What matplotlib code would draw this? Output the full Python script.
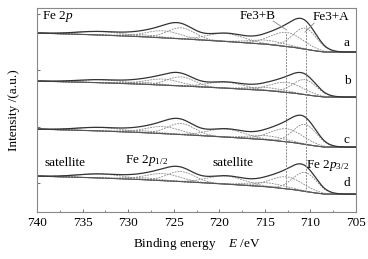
import numpy as np
import matplotlib
matplotlib.use('Agg')
import matplotlib.pyplot as plt

plt.rcParams['font.family'] = ['Liberation Serif', 'DejaVu Serif']
plt.rcParams['mathtext.fontset'] = 'custom'
plt.rcParams['mathtext.rm'] = 'Liberation Serif'
plt.rcParams['mathtext.it'] = 'Liberation Serif:italic'

# --- datos ---
muestras = ['a', 'b', 'c', 'd']
nivel_izq = [179, 131, 83, 36]      # fondo a 740 eV
nivel_der = [160, 115, 65, 18]      # fondo a 705 eV

# fondo tipo Shirley (fraccion del salto)
e_fondo = [740, 735, 730, 725, 720, 715, 712, 710, 708.5, 705]
f_fondo = [1.0, 0.93, 0.84, 0.72, 0.58, 0.42, 0.26, 0.1, 0.0, 0.0]

# componentes del ajuste: centro (eV), sigma (eV)
centros = [710.6, 712.6, 714.8, 719.3, 724.2, 726.2, 728.6, 733.0]
sigmas = [1.3, 1.8, 2.0, 2.0, 1.5, 1.9, 1.8, 2.5]
alturas = {
    'a': [21, 14, 4, 8, 11, 7, 2, 3.5],
    'b': [15, 10, 3, 6, 9, 6, 2, 3.0],
    'c': [20, 13, 4, 8, 11, 7, 2, 3.5],
    'd': [19, 12, 4, 8, 10, 7, 2, 4.0],
}

lineas_v = [712.7, 710.5]
lineas_v_y = [(24, 179), (20, 187)]

E = np.linspace(740, 705, 700)

fig = plt.figure(figsize=(3.68, 2.59), dpi=100)
ax = fig.add_axes([0.1005, 0.181, 0.867, 0.788])

for k, m in enumerate(muestras):
    fondo = nivel_der[k] + (nivel_izq[k] - nivel_der[k]) * np.interp(E, e_fondo[::-1], f_fondo[::-1])
    total = fondo.copy()
    for c, s, h in zip(centros, sigmas, alturas[m]):
        comp = h * np.exp(-(E - c) ** 2 / (2 * s ** 2))
        total += comp
        ax.plot(E, fondo + comp, ls=(0, (2.2, 1.2)), color='#8a8a8a', lw=0.6)
    ax.plot(E, fondo, color='#555555', lw=0.8)
    ax.plot(E, total, color='#333333', lw=0.9)

for x, (y0, y1) in zip(lineas_v, lineas_v_y):
    ax.plot([x, x], [y0, y1], ls=(0, (2, 1.2)), color='#8a8a8a', lw=0.7)

ax.set_xlim(740, 705)
ax.set_ylim(0, 204)
ax.set_xticks(np.arange(740, 704, -5))
ax.set_xticks(np.arange(737.5, 705, -2.5), minor=True)
ax.set_yticks([29, 85.5, 142, 198.5])
ax.set_yticklabels([])
ax.tick_params(direction='in', length=2.5, width=0.6, colors='#555555', labelcolor='black', labelsize=9.5)
ax.tick_params(which='minor', direction='in', length=1.5, width=0.5, colors='#555555')
for sp in ax.spines.values():
    sp.set_color('#888888')
    sp.set_linewidth(0.8)

ax.set_xlabel(r'Binding energy    $E$ /eV', fontsize=9.5, labelpad=5)
ax.set_ylabel('Intensity /(a.u.)', fontsize=9.5, labelpad=9)

ax.text(739.5, 196, r'Fe 2$p$', fontsize=9.5, va='center', ha='left')
ax.text(715.8, 196, 'Fe3+B', fontsize=9.5, ha='center', va='center')
ax.plot([714.1, 712.6], [191, 182], color='#888888', lw=0.6)
ax.text(707.8, 195, 'Fe3+A', fontsize=9.5, ha='center', va='center')
ax.plot([709.6, 710.6], [189, 180], color='#888888', lw=0.6)
for m, y in zip(muestras, [169, 131, 72, 29]):
    ax.text(706.0, y, m, fontsize=9.5, ha='center', va='center')

ax.text(736.9, 49, 'satellite', fontsize=9.5, ha='center', va='center')
ax.text(728.0, 52, r'Fe 2$p_{1/2}$', fontsize=9.5, ha='center', va='center')
ax.text(718.5, 49, 'satellite', fontsize=9.5, ha='center', va='center')
ax.text(708.1, 47, r'Fe 2$p_{3/2}$', fontsize=9.5, ha='center', va='center')

fig.savefig('out.png', dpi=100)
